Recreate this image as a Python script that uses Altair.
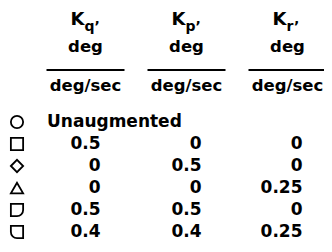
import altair as alt
import pandas as pd

# ---- data ----
columns = [1, 2, 3]
k_letters = ["q", "p", "r"]
header_unit_top = ["deg", "deg", "deg"]
header_unit_bottom = ["deg/sec", "deg/sec", "deg/sec"]

rows = [0, 1, 2, 3, 4, 5]
symbols = ["circle", "square", "diamond", "triangle", "dshape", "cshape"]
kq_vals = ["Unaugmented", "0.5", "0", "0", "0.5", "0.4"]
kp_vals = ["", "0", "0.5", "0", "0.5", "0.4"]
kr_vals = ["", "0", "0", "0.25", "0", "0.25"]

# ---- tables ----
hdr = pd.DataFrame({
    "col": columns,
    "sub": [k + "\u2019" for k in k_letters],
    "top": header_unit_top,
    "bot": header_unit_bottom,
})

cells = []
for r, a, b, c in zip(rows, kq_vals, kp_vals, kr_vals):
    for col, v in zip(columns, [a, b, c]):
        if v and v != "Unaugmented":
            cells.append({"row": r, "col": col, "val": v})
cells = pd.DataFrame(cells)
label = pd.DataFrame({"row": [0], "col": [1], "val": [kq_vals[0]]})
sym = pd.DataFrame({"row": rows, "sym": symbols})

FONT = "DejaVu Sans"
xs = alt.Scale(domain=[1, 3], range=[77.5, 279.5])
ys = alt.Scale(domain=[0, 5], range=[114, 224])
X = alt.X("col:Q", scale=xs, axis=None)

k_main = alt.Chart(hdr).mark_text(
    font=FONT, fontWeight="bold", fontSize=18, align="right", baseline="alphabetic", dx=-1
).encode(x=X, y=alt.value(17), text=alt.value("K"))
k_sub = alt.Chart(hdr).mark_text(
    font=FONT, fontWeight="bold", fontSize=14, align="left", baseline="alphabetic", dx=-1
).encode(x=X, y=alt.value(23), text="sub:N")
top = alt.Chart(hdr).mark_text(
    font=FONT, fontWeight="bold", fontSize=16.5, align="center", baseline="alphabetic"
).encode(x=X, y=alt.value(44), text="top:N")
rule = alt.Chart(hdr).mark_rule(
    color="black", strokeWidth=2, xOffset=-39, x2Offset=39
).encode(x=X, x2="col:Q", y=alt.value(62))
bot = alt.Chart(hdr).mark_text(
    font=FONT, fontWeight="bold", fontSize=16.5, align="center", baseline="alphabetic"
).encode(x=X, y=alt.value(83), text="bot:N")

vals = alt.Chart(cells).mark_text(
    font=FONT, fontWeight="bold", fontSize=17, align="right", baseline="middle", dx=15
).encode(x=X, y=alt.Y("row:Q", scale=ys, axis=None), text="val:N")
lab = alt.Chart(label).mark_text(
    font=FONT, fontWeight="bold", fontSize=17, align="left", baseline="middle", dx=-38.5
).encode(x=X, y=alt.Y("row:Q", scale=ys, axis=None), text="val:N")

shape_range = [
    "circle", "square", "diamond", "triangle-up",
    "M -1 -1 L 1 -1 L 1 0 A 1 1 0 0 1 0 1 L -1 1 Z",
    "M 1 -1 L -1 -1 L -1 0 A 1 1 0 0 0 0 1 L 1 1 Z",
]
marks = alt.Chart(sym).mark_point(
    filled=False, color="black", strokeWidth=1.8, size=150, opacity=1
).encode(
    x=alt.value(9),
    y=alt.Y("row:Q", scale=ys, axis=None),
    shape=alt.Shape("sym:N", scale=alt.Scale(domain=symbols, range=shape_range), legend=None),
)

chart = alt.layer(k_main, k_sub, top, rule, bot, vals, lab, marks).properties(
    width=316, height=236, padding=0, autosize="none"
).configure_view(stroke=None)

chart.save("out.html", embed_options={"renderer": "svg", "actions": False})
